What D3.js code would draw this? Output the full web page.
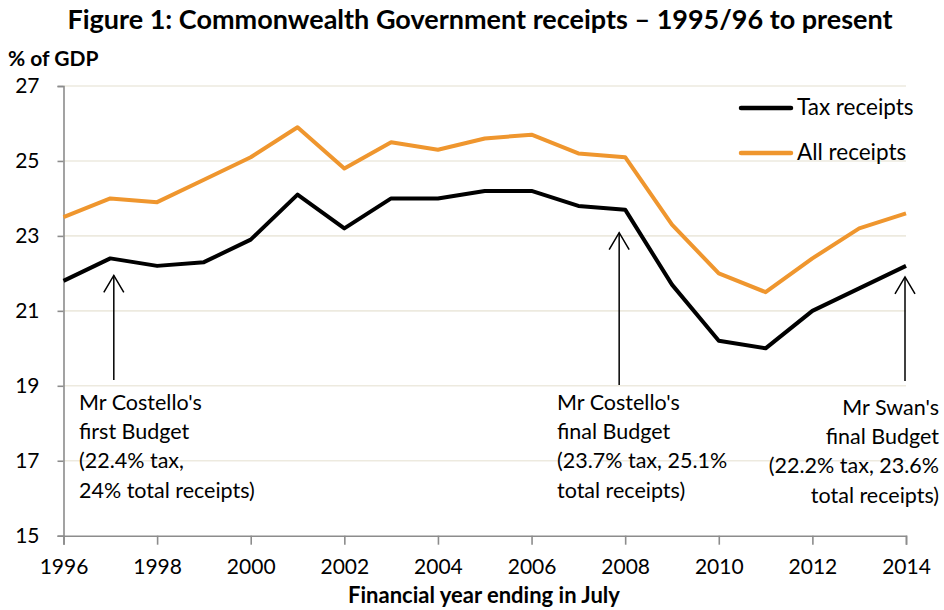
<!DOCTYPE html>
<html>
<head>
<meta charset="utf-8">
<script src="https://cdn.jsdelivr.net/npm/d3@7"></script>
<style>
  html, body { margin: 0; padding: 0; background: #fff; }
  svg { display: block; font-family: Lato, "Open Sans", sans-serif; }
</style>
</head>
<body>
<svg id="chart" width="944" height="610"></svg>
<script>
// Financial years (ending July) and receipts as % of GDP
const years = [1996, 1997, 1998, 1999, 2000, 2001, 2002, 2003, 2004, 2005,
               2006, 2007, 2008, 2009, 2010, 2011, 2012, 2013, 2014];
const taxReceipts = [21.8, 22.4, 22.2, 22.3, 22.9, 24.1, 23.2, 24.0, 24.0, 24.2,
                     24.2, 23.8, 23.7, 21.7, 20.2, 20.0, 21.0, 21.6, 22.2];
const allReceipts = [23.5, 24.0, 23.9, 24.5, 25.1, 25.9, 24.8, 25.5, 25.3, 25.6,
                     25.7, 25.2, 25.1, 23.3, 22.0, 21.5, 22.4, 23.2, 23.6];

const seriesNames = ["Tax receipts", "All receipts"];
const xTicks = [1996, 1998, 2000, 2002, 2004, 2006, 2008, 2010, 2012, 2014];
const yTicks = [15, 17, 19, 21, 23, 25, 27];

// Budget call-outs: year marked, and text lines
const budgetYears = [1997, 2008, 2014];
const budgetNotes = [
  ["Mr Costello's", "first Budget", "(22.4% tax,", "24% total receipts)"],
  ["Mr Costello's", "final Budget", "(23.7% tax, 25.1%", "total receipts)"],
  ["Mr Swan's", "final Budget", "(22.2% tax, 23.6%", "total receipts)"]
];

const svg = d3.select("#chart");
const plot = { left: 63.5, right: 906, top: 86, bottom: 535.7 };
const orange = "#EF962E";
const gridColor = "#EDEADF";
const axisColor = "#8C8C8C";

const x = d3.scaleLinear().domain([1996, 2014]).range([plot.left, plot.right]);
const y = d3.scaleLinear().domain([15, 27]).range([plot.bottom, plot.top]);

// Title
svg.append("text")
  .attr("x", 480).attr("y", 29)
  .attr("text-anchor", "middle")
  .attr("font-weight", "bold").attr("font-size", 27)
  .text("Figure 1: Commonwealth Government receipts \u2013 1995/96 to present");

// Y unit label
svg.append("text")
  .attr("x", 8).attr("y", 66)
  .attr("font-weight", "bold").attr("font-size", 21)
  .text("% of GDP");

// Horizontal gridlines
svg.append("g").selectAll("line")
  .data(yTicks.filter(d => d > 15))
  .join("line")
  .attr("x1", plot.left).attr("x2", plot.right)
  .attr("y1", d => y(d)).attr("y2", d => y(d))
  .attr("stroke", gridColor).attr("stroke-width", 1.6);

// Y axis
const yAxis = svg.append("g")
  .attr("transform", `translate(${plot.left},0)`)
  .call(d3.axisLeft(y).tickValues(yTicks).tickSize(6).tickPadding(18).tickFormat(d3.format("d")));
yAxis.select(".domain").attr("stroke", axisColor).attr("stroke-width", 1.6);
yAxis.selectAll(".tick line").attr("stroke", axisColor).attr("stroke-width", 1.6);
yAxis.selectAll(".tick text")
  .attr("font-family", "Lato, sans-serif").attr("font-size", 21).attr("fill", "#000");

// X axis
const xAxis = svg.append("g")
  .attr("transform", `translate(0,${plot.bottom})`)
  .call(d3.axisBottom(x).tickValues(xTicks).tickSize(9).tickFormat(d3.format("d")));
xAxis.select(".domain").attr("stroke", axisColor).attr("stroke-width", 1.6);
xAxis.selectAll(".tick line").attr("stroke", axisColor).attr("stroke-width", 1.6);
xAxis.selectAll(".tick text")
  .attr("font-family", "Lato, sans-serif").attr("font-size", 21).attr("fill", "#000")
  .attr("y", 38).attr("dy", 0);

// X axis title
svg.append("text")
  .attr("x", 484).attr("y", 603)
  .attr("text-anchor", "middle")
  .attr("font-weight", "bold").attr("font-size", 22)
  .text("Financial year ending in July");

// Series lines
const line = d3.line().x(d => x(d.year)).y(d => y(d.value));
const series = [
  { name: seriesNames[0], color: "#000", values: years.map((yr, i) => ({ year: yr, value: taxReceipts[i] })) },
  { name: seriesNames[1], color: orange, values: years.map((yr, i) => ({ year: yr, value: allReceipts[i] })) }
];
svg.append("g").selectAll("path")
  .data(series.slice().reverse())
  .join("path")
  .attr("d", d => line(d.values))
  .attr("fill", "none")
  .attr("stroke", d => d.color)
  .attr("stroke-width", 4)
  .attr("stroke-linejoin", "round");

// Legend
const legend = svg.append("g");
series.forEach((s, i) => {
  const ly = 108 + i * 45;
  legend.append("line")
    .attr("x1", 741).attr("x2", 791).attr("y1", ly).attr("y2", ly)
    .attr("stroke", s.color).attr("stroke-width", 4.5).attr("stroke-linecap", "round");
  legend.append("text")
    .attr("x", 797).attr("y", ly + 7)
    .attr("font-size", 22.5)
    .text(s.name);
});

// Budget arrows: tip sits just under the tax line at the marked year
const arrowDx = [3.5, -6, -1];
const arrowGap = [17, 23, 11];
const arrowBottom = [380, 385, 381];
const arrows = svg.append("g").attr("stroke", "#000").attr("stroke-width", 1.5).attr("fill", "none");
budgetYears.forEach((yr, i) => {
  const ax = x(yr) + arrowDx[i];
  const tipY = y(taxReceipts[years.indexOf(yr)]) + arrowGap[i];
  arrows.append("line").attr("x1", ax).attr("x2", ax).attr("y1", tipY).attr("y2", arrowBottom[i]);
  arrows.append("path").attr("d", `M${ax - 10},${tipY + 17}L${ax},${tipY}L${ax + 10},${tipY + 17}`);
});

// Budget notes
const noteX = [79, 557, 939];
const noteY = [410, 410, 415];
const noteAnchor = ["start", "start", "end"];
budgetNotes.forEach((lines, i) => {
  const t = svg.append("text")
    .attr("font-size", 21.5)
    .attr("text-anchor", noteAnchor[i]);
  lines.forEach((ln, j) => {
    t.append("tspan").attr("x", noteX[i]).attr("y", noteY[i] + j * 29.2).text(ln);
  });
});
</script>
</body>
</html>
